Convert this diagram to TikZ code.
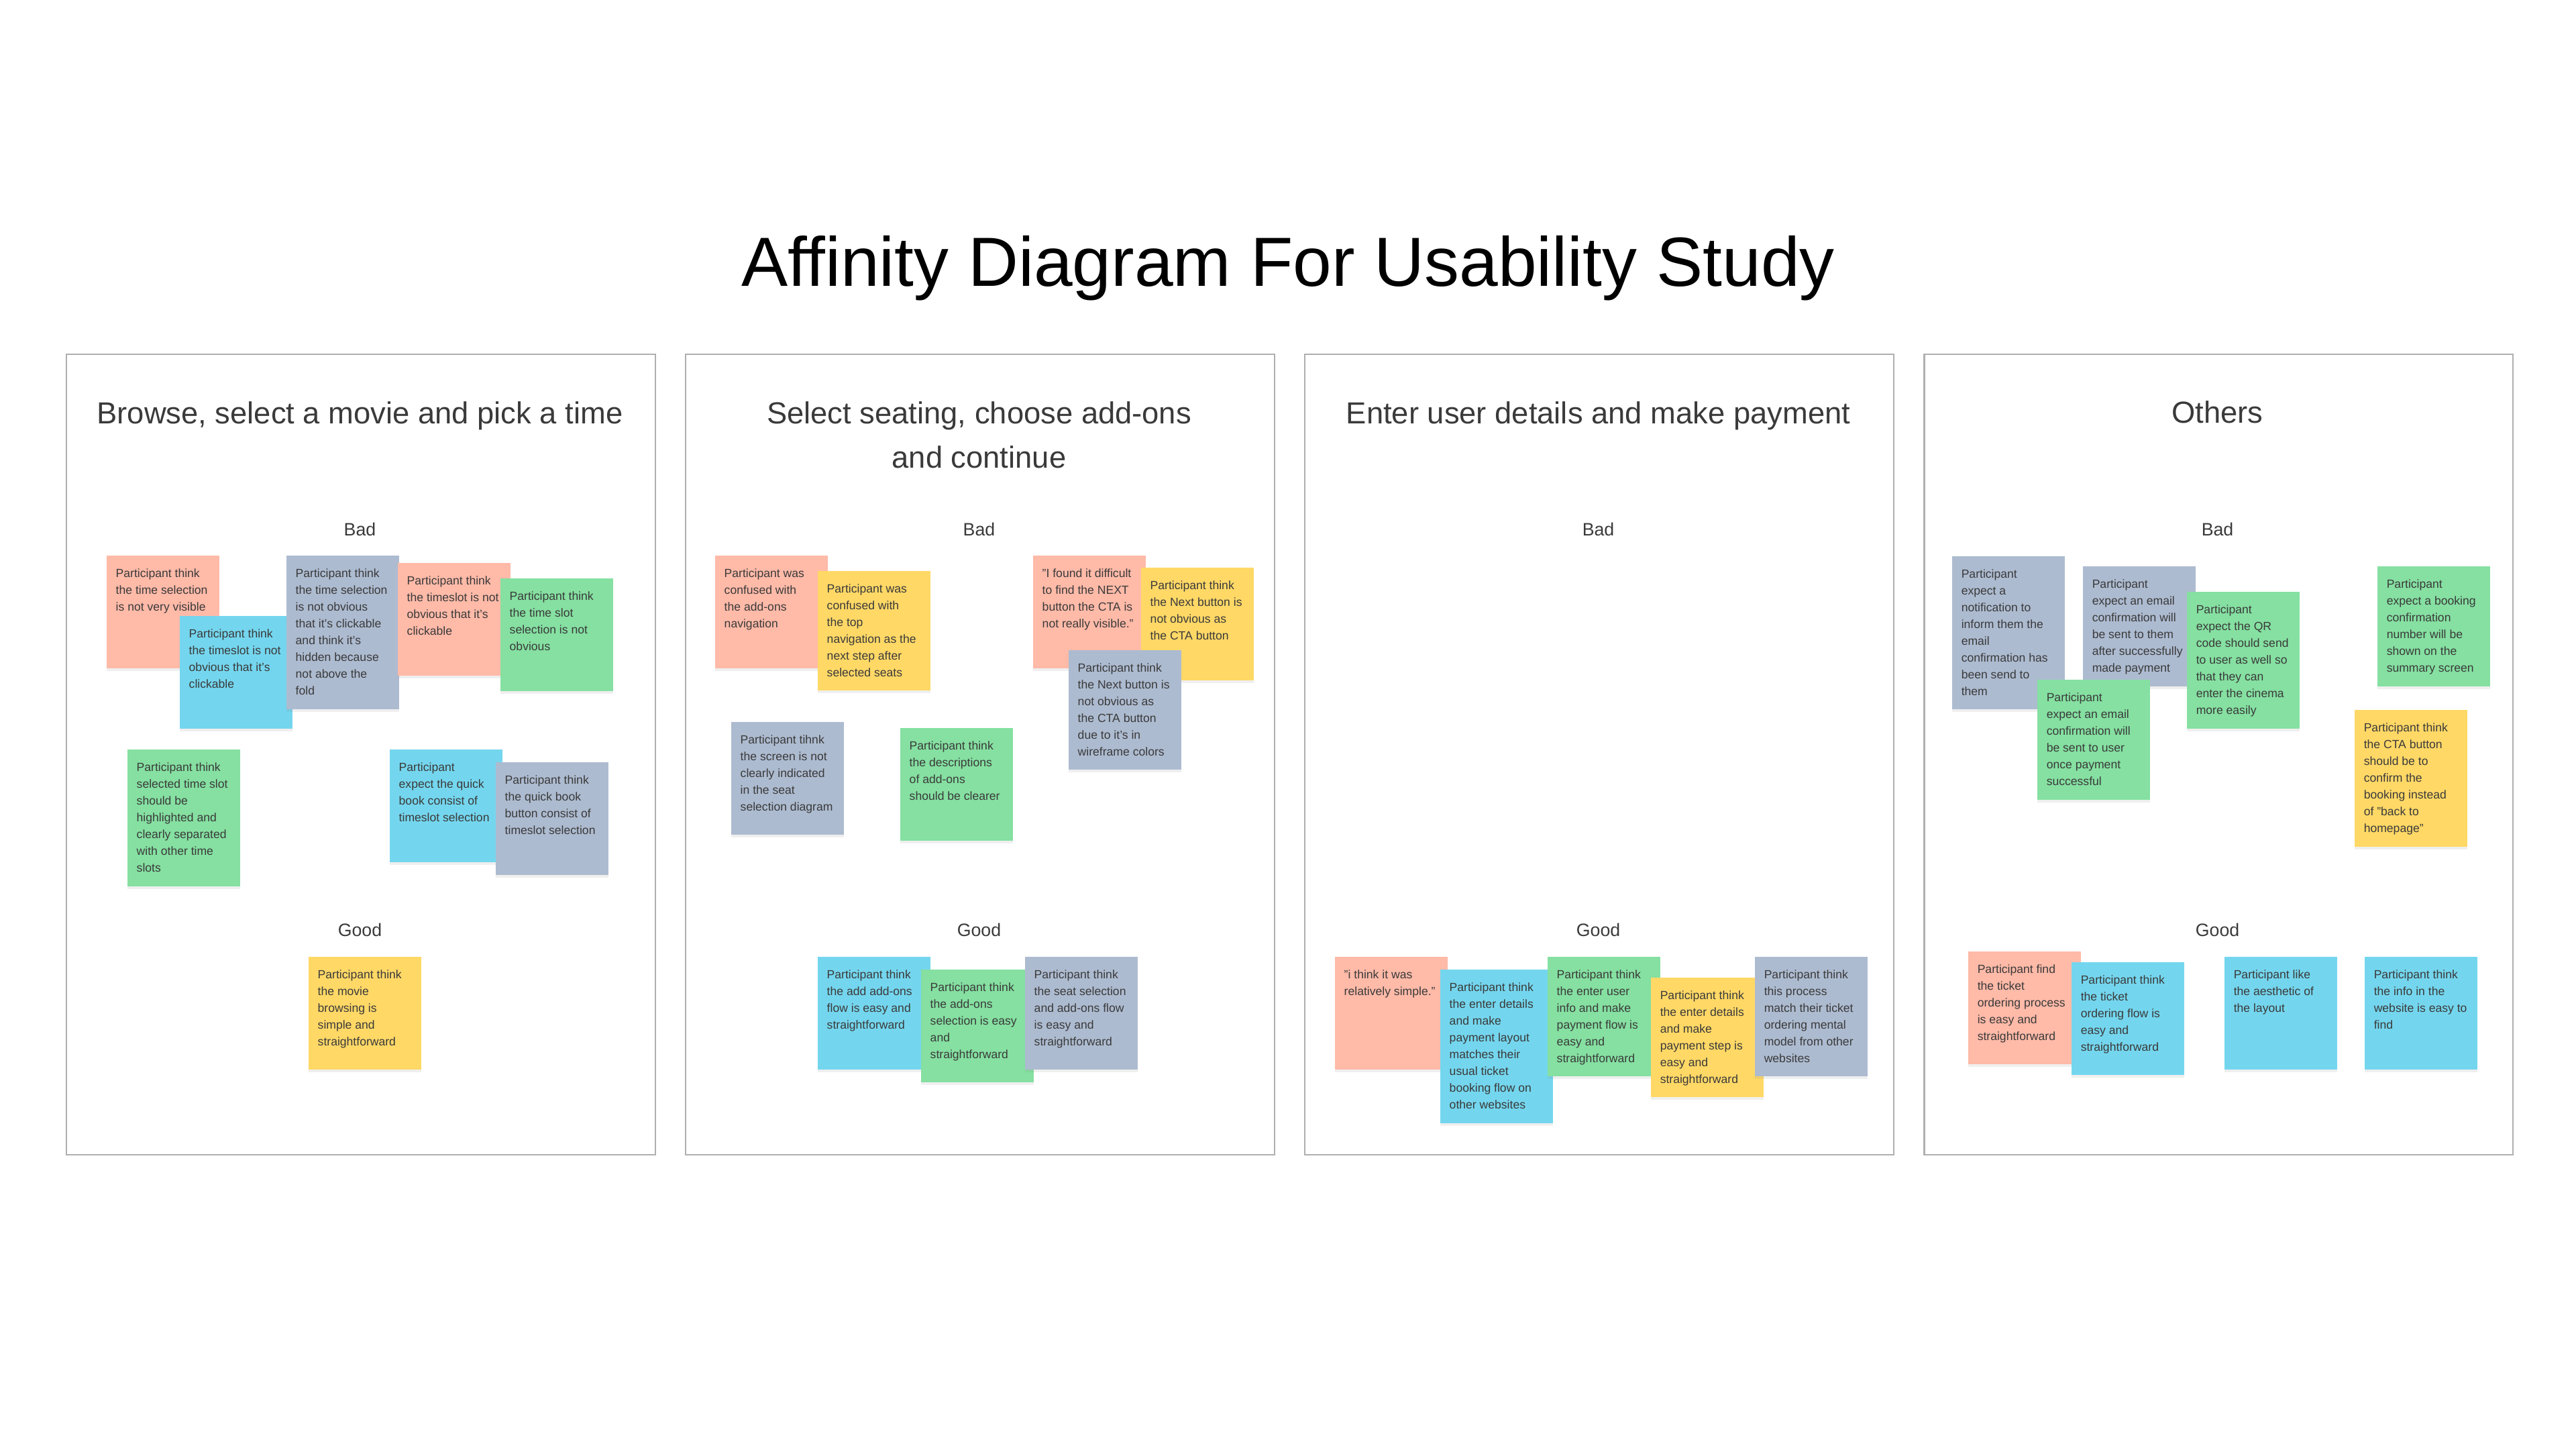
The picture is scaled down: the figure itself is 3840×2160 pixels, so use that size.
\documentclass[tikz,border=0pt]{standalone}
\usepackage{fontspec}
\setmainfont{Liberation Sans}
\usetikzlibrary{shadows}
\definecolor{csalmon}{RGB}{255,186,168}
\definecolor{ccyan}{RGB}{116,214,238}
\definecolor{cgray}{RGB}{173,187,208}
\definecolor{cgreen}{RGB}{133,224,161}
\definecolor{cyellow}{RGB}{255,216,102}
\definecolor{ctext}{RGB}{58,58,58}
\definecolor{cborder}{RGB}{175,175,175}
\tikzset{
  stickybox/.style={draw=none, rectangle, anchor=north west, inner sep=0pt,
    minimum width=1.68cm,
    drop shadow={opacity=0.12, shadow xshift=0pt, shadow yshift=-1.3pt}},
  stickytext/.style={anchor=north west, inner sep=0pt, align=left, text=ctext,
    font=\fontsize{5}{7.1}\selectfont},
  panelbox/.style={draw=cborder, line width=0.7pt, rectangle, anchor=north west,
    minimum width=8.77cm, minimum height=11.92cm, inner sep=0pt},
  ptitle/.style={text=ctext, font=\fontsize{12.9}{18.8}\selectfont, align=center},
  plabel/.style={text=ctext, font=\fontsize{7.6}{9}\selectfont},
  maintitle/.style={text=black, font=\fontsize{29.5}{34}\selectfont}
}
\newcommand{\sticky}[6]{%
  \node[stickybox, fill=#5, minimum height=#4cm] (#1) at (#2,#3) {};
  \node[stickytext] (#1t) at ([xshift=0.14cm,yshift=-0.20cm]#1.north west) {#6};
}
\begin{document}
\begin{tikzpicture}[x=0.01cm,y=-0.01cm]
\useasboundingbox[fill=white] (0,0) rectangle (3840,2160);
\node[maintitle] (title) at (1920,400) {Affinity Diagram For Usability Study};

% panels
\node[panelbox] (p1) at (98,527) {};
\node[panelbox] (p2) at (1021,527) {};
\node[panelbox] (p3) at (1944,527) {};
\node[panelbox] (p4) at (2867,527) {};

\node[ptitle] (p1title) at (536.5,620) {Browse, select a movie and pick a time};
\node[ptitle] (p2title) at (1459.5,648) {Select seating, choose add-ons\\and continue};
\node[ptitle] (p3title) at (2382.5,620) {Enter user details and make payment};
\node[ptitle] (p4title) at (3305.5,614) {Others};

\node[plabel] (p1bad) at (536.5,789) {Bad};
\node[plabel] (p2bad) at (1459.5,789) {Bad};
\node[plabel] (p3bad) at (2382.5,789) {Bad};
\node[plabel] (p4bad) at (3305.5,789) {Bad};
\node[plabel] (p1good) at (536.5,1386) {Good};
\node[plabel] (p2good) at (1459.5,1386) {Good};
\node[plabel] (p3good) at (2382.5,1386) {Good};
\node[plabel] (p4good) at (3305.5,1386) {Good};

% panel 1
\sticky{sa}{158}{827}{1.68}{csalmon}{Participant think\\the time selection\\is not very visible}
\sticky{sb}{267}{917}{1.68}{ccyan}{Participant think\\the timeslot is not\\obvious that it's\\clickable}
\sticky{sc}{426}{827}{2.29}{cgray}{Participant think\\the time selection\\is not obvious\\that it's clickable\\and think it's\\hidden because\\not above the\\fold}
\sticky{sd}{592}{838}{1.68}{csalmon}{Participant think\\the timeslot is not\\obvious that it's\\clickable}
\sticky{se}{745}{861}{1.68}{cgreen}{Participant think\\the time slot\\selection is not\\obvious}
\sticky{sf}{189}{1116}{2.04}{cgreen}{Participant think\\selected time slot\\should be\\highlighted and\\clearly separated\\with other time\\slots}
\sticky{sg}{580}{1116}{1.68}{ccyan}{Participant\\expect the quick\\book consist of\\timeslot selection}
\sticky{sh}{738}{1135}{1.68}{cgray}{Participant think\\the quick book\\button consist of\\timeslot selection}
\sticky{si}{459}{1425}{1.68}{cyellow}{Participant think\\the movie\\browsing is\\simple and\\straightforward}

% panel 2
\sticky{ta}{1065}{827}{1.68}{csalmon}{Participant was\\confused with\\the add-ons\\navigation}
\sticky{tb}{1218}{850}{1.78}{cyellow}{Participant was\\confused with\\the top\\navigation as the\\next step after\\selected seats}
\sticky{tc}{1539}{827}{1.68}{csalmon}{"I found it difficult\\to find the NEXT\\button the CTA is\\not really visible."}
\sticky{td}{1700}{845}{1.68}{cyellow}{Participant think\\the Next button is\\not obvious as\\the CTA button}
\sticky{te}{1592}{968}{1.78}{cgray}{Participant think\\the Next button is\\not obvious as\\the CTA button\\due to it's in\\wireframe colors}
\sticky{tf}{1089}{1075}{1.68}{cgray}{Participant tihnk\\the screen is not\\clearly indicated\\in the seat\\selection diagram}
\sticky{tg}{1341}{1084}{1.68}{cgreen}{Participant think\\the descriptions\\of add-ons\\should be clearer}
\sticky{th}{1218}{1425}{1.68}{ccyan}{Participant think\\the add add-ons\\flow is easy and\\straightforward}
\sticky{ti}{1372}{1444}{1.68}{cgreen}{Participant think\\the add-ons\\selection is easy\\and\\straightforward}
\sticky{tj}{1527}{1425}{1.68}{cgray}{Participant think\\the seat selection\\and add-ons flow\\is easy and\\straightforward}

% panel 3
\sticky{ua}{1989}{1425}{1.68}{csalmon}{"i think it was\\relatively simple."}
\sticky{ub}{2146}{1444}{2.29}{ccyan}{Participant think\\the enter details\\and make\\payment layout\\matches their\\usual ticket\\booking flow on\\other websites}
\sticky{uc}{2306}{1425}{1.78}{cgreen}{Participant think\\the enter user\\info and make\\payment flow is\\easy and\\straightforward}
\sticky{ud}{2460}{1456}{1.78}{cyellow}{Participant think\\the enter details\\and make\\payment step is\\easy and\\straightforward}
\sticky{ue}{2615}{1425}{1.78}{cgray}{Participant think\\this process\\match their ticket\\ordering mental\\model from other\\websites}

% panel 4
\sticky{va}{2909}{828}{2.28}{cgray}{Participant\\expect a\\notification to\\inform them the\\email\\confirmation has\\been send to\\them}
\sticky{vb}{3104}{843}{1.79}{cgray}{Participant\\expect an email\\confirmation will\\be sent to them\\after successfully\\made payment}
\sticky{vc}{3259}{881}{2.04}{cgreen}{Participant\\expect the QR\\code should send\\to user as well so\\that they can\\enter the cinema\\more easily}
\sticky{vd}{3036}{1012}{1.79}{cgreen}{Participant\\expect an email\\confirmation will\\be sent to user\\once payment\\successful}
\sticky{ve}{3543}{843}{1.79}{cgreen}{Participant\\expect a booking\\confirmation\\number will be\\shown on the\\summary screen}
\sticky{vf}{3509}{1057}{2.04}{cyellow}{Participant think\\the CTA button\\should be to\\confirm the\\booking instead\\of "back to\\homepage"}
\sticky{vg}{2933}{1417}{1.68}{csalmon}{Participant find\\the ticket\\ordering process\\is easy and\\straightforward}
\sticky{vh}{3087}{1433}{1.68}{ccyan}{Participant think\\the ticket\\ordering flow is\\easy and\\straightforward}
\sticky{vi}{3315}{1425}{1.68}{ccyan}{Participant like\\the aesthetic of\\the layout}
\sticky{vj}{3524}{1425}{1.68}{ccyan}{Participant think\\the info in the\\website is easy to\\find}
\end{tikzpicture}
\end{document}
